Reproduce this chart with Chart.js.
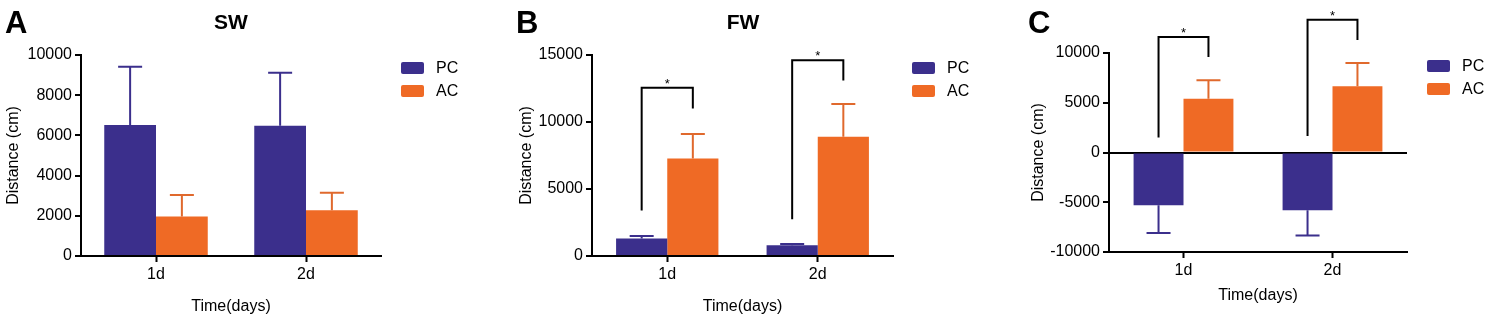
<!DOCTYPE html>
<html>
<head>
<meta charset="utf-8">
<script src="https://cdn.jsdelivr.net/npm/chart.js@4.4.1/dist/chart.umd.min.js"></script>
<style>
  body { margin: 0; background: #fff; }
  #wrap { position: relative; width: 1488px; height: 320px; }
  canvas { position: absolute; top: 0; }
</style>
</head>
<body>
<div id="wrap">
  <canvas id="swChart" width="496" height="320" style="left:0px"></canvas>
  <canvas id="fwChart" width="496" height="320" style="left:496px"></canvas>
  <canvas id="diffChart" width="496" height="320" style="left:992px"></canvas>
</div>
<script>
// Swimming distance, PC vs AC, per day

const days = ['1d', '2d'];
const seriesNames = ['PC', 'AC'];

// Panel A - SW
const swPC = [6520, 6480];
const swPCsd = [2900, 2640];
const swAC = [1970, 2270];
const swACsd = [1060, 880];
const swTicks = [0, 2000, 4000, 6000, 8000, 10000];

// Panel B - FW
const fwPC = [1300, 800];
const fwPCsd = [200, 100];
const fwAC = [7280, 8900];
const fwACsd = [1820, 2450];
const fwTicks = [0, 5000, 10000, 15000];
const fwBracketLeft = [3400, 2750];
const fwBracketTop = [12550, 14600];
const fwBracketRight = [11000, 13100];

// Panel C - difference
const diffPC = [-5300, -5800];
const diffPCsd = [2800, 2550];
const diffAC = [5400, 6650];
const diffACsd = [1850, 2350];
const diffTicks = [-10000, -5000, 0, 5000, 10000];
const diffBracketLeft = [1500, 1650];
const diffBracketTop = [11600, 13350];
const diffBracketRight = [9600, 11300];

const colorPC = '#3b2f8c';
const colorAC = '#ef6a25';
const errPC = '#3b2f8c';
const errAC = '#e0692d';

Chart.defaults.font.family = "'Liberation Sans', Arial, sans-serif";
Chart.defaults.color = '#000';

// draws letters, titles, error bars, brackets and legend
const panelDecor = {
    id: 'panelDecor',
    afterDatasetsDraw(chart, args, opts) {
        const ctx = chart.ctx;
        const y = chart.scales.y;
        ctx.save();
        // error bars
        opts.errors.forEach((sd, i) => {
            const meta = chart.getDatasetMeta(i);
            const vals = chart.data.datasets[i].data;
            ctx.strokeStyle = opts.errColors[i];
            ctx.lineWidth = 2;
            meta.data.forEach((bar, j) => {
                const v = vals[j];
                const end = v + (v < 0 ? -sd[j] : sd[j]);
                const y0 = y.getPixelForValue(v);
                const y1 = y.getPixelForValue(end);
                ctx.beginPath();
                ctx.moveTo(bar.x, y0);
                ctx.lineTo(bar.x, y1);
                ctx.moveTo(bar.x - 12, y1);
                ctx.lineTo(bar.x + 12, y1);
                ctx.stroke();
            });
        });
        // significance brackets
        if (opts.brackets) {
            const b = opts.brackets;
            const pc = chart.getDatasetMeta(0).data;
            const ac = chart.getDatasetMeta(1).data;
            ctx.strokeStyle = '#000';
            ctx.lineWidth = 2;
            ctx.fillStyle = '#000';
            ctx.font = "13px 'Liberation Sans', Arial";
            ctx.textAlign = 'center';
            ctx.textBaseline = 'alphabetic';
            b.top.forEach((t, j) => {
                const xl = pc[j].x, xr = ac[j].x;
                const yt = y.getPixelForValue(t);
                ctx.beginPath();
                ctx.moveTo(xl, y.getPixelForValue(b.left[j]));
                ctx.lineTo(xl, yt);
                ctx.lineTo(xr, yt);
                ctx.lineTo(xr, y.getPixelForValue(b.right[j]));
                ctx.stroke();
                ctx.fillText('*', (xl + xr) / 2, yt);
            });
        }
        ctx.restore();
    },
    afterDraw(chart, args, opts) {
        const ctx = chart.ctx;
        ctx.save();
        ctx.fillStyle = '#000';
        ctx.textBaseline = 'alphabetic';
        ctx.textAlign = 'left';
        ctx.font = "bold 31px 'Liberation Sans', Arial";
        ctx.fillText(opts.letter, opts.letterX, 33);
        if (opts.title) {
            ctx.textAlign = 'center';
            ctx.font = "bold 21px 'Liberation Sans', Arial";
            ctx.fillText(opts.title, opts.titleX, 29);
        }
        // legend
        ctx.textAlign = 'left';
        ctx.textBaseline = 'middle';
        ctx.font = "16px 'Liberation Sans', Arial";
        chart.data.datasets.forEach((ds, i) => {
            const cy = opts.legendY + i * 23;
            ctx.fillStyle = ds.backgroundColor;
            ctx.beginPath();
            ctx.roundRect(opts.legendX, cy - 6, 23, 12, 2);
            ctx.fill();
            ctx.fillStyle = '#000';
            ctx.fillText(ds.label, opts.legendX + 35, cy + 1);
        });
        ctx.restore();
    }
};

function makePanel(id, pc, ac, ticks, layout, decor, catPct) {
    const zeroLine = ticks[0] < 0;
    return new Chart(document.getElementById(id).getContext('2d'), {
        type: 'bar',
        data: {
            labels: days,
            datasets: [
                { label: seriesNames[0], data: pc, backgroundColor: colorPC },
                { label: seriesNames[1], data: ac, backgroundColor: colorAC }
            ]
        },
        plugins: [panelDecor],
        options: {
            responsive: false,
            animation: false,
            devicePixelRatio: 1,
            categoryPercentage: catPct,
            barPercentage: 1,
            layout: { padding: layout.padding },
            plugins: {
                legend: { display: false },
                tooltip: { enabled: false },
                panelDecor: decor
            },
            scales: {
                x: {
                    grid: { display: true, drawOnChartArea: false, offset: false, tickLength: 6, tickColor: '#000', tickWidth: 2 },
                    border: { color: '#000', width: 2 },
                    ticks: { font: { size: 16 }, color: '#000', padding: 3 },
                    title: { display: true, text: 'Time(days)', font: { size: 16 }, color: '#000' },
                    afterFit: s => { s.height = layout.xHeight; }
                },
                y: {
                    min: ticks[0],
                    max: ticks[ticks.length - 1],
                    grid: {
                        drawOnChartArea: zeroLine,
                        color: c => (c.tick && c.tick.value === 0 && zeroLine) ? '#000' : 'rgba(0,0,0,0)',
                        lineWidth: 2,
                        tickLength: 6,
                        tickColor: '#000',
                        tickWidth: 2
                    },
                    border: { color: '#000', width: 2 },
                    ticks: {
                        stepSize: ticks[1] - ticks[0],
                        font: { size: 16 }, color: '#000', padding: 3,
                        callback: v => String(v)
                    },
                    title: { display: true, text: 'Distance (cm)', font: { size: 16 }, color: '#000' },
                    afterFit: s => { s.width = layout.yWidth; }
                }
            }
        }
    });
}

makePanel('swChart', swPC, swAC, swTicks,
    { padding: { left: 0, right: 115, top: 55, bottom: 0 }, yWidth: 81, xHeight: 64 },
    { letter: 'A', letterX: 5, title: 'SW', titleX: 231, legendX: 401, legendY: 68,
      errors: [swPCsd, swACsd], errColors: [errPC, errAC] }, 0.69);

makePanel('fwChart', fwPC, fwAC, fwTicks,
    { padding: { left: 17, right: 99, top: 55, bottom: 0 }, yWidth: 79, xHeight: 64 },
    { letter: 'B', letterX: 20, title: 'FW', titleX: 247, legendX: 416, legendY: 68,
      errors: [fwPCsd, fwACsd], errColors: [errPC, errAC],
      brackets: { left: fwBracketLeft, top: fwBracketTop, right: fwBracketRight } }, 0.68);

makePanel('diffChart', diffPC, diffAC, diffTicks,
    { padding: { left: 33, right: 81, top: 53, bottom: 11 }, yWidth: 84, xHeight: 57 },
    { letter: 'C', letterX: 36, legendX: 435, legendY: 66,
      errors: [diffPCsd, diffACsd], errColors: [errPC, errAC],
      brackets: { left: diffBracketLeft, top: diffBracketTop, right: diffBracketRight } }, 0.67);
</script>
</body>
</html>
